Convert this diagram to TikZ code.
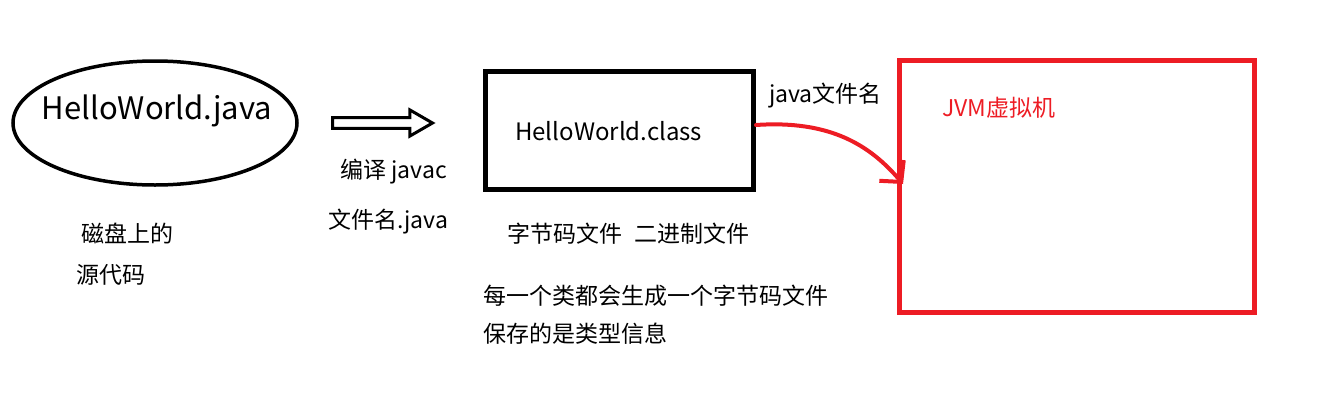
\documentclass[tikz,border=0pt]{standalone}
\usepackage{fontspec}
\setmainfont{Noto Sans CJK SC}
\usetikzlibrary{arrows.meta,shapes.arrows}
\definecolor{jred}{RGB}{237,28,36}
\tikzset{
  lbl/.style={inner sep=0pt, font=\fontsize{23}{26}\selectfont, anchor=west},
  bigbox/.style={draw, line width=5pt, inner sep=0pt},
}
\begin{document}
\begin{tikzpicture}[x=1pt,y=-1pt]
\useasboundingbox (0,0) rectangle (1318,410);
% ellipse
\draw[line width=3.5pt] (155,123) ellipse [x radius=142, y radius=62];
\node[inner sep=0pt, font=\fontsize{31}{34}\selectfont] (src) at (157,111) {HelloWorld.java};
\node[lbl] (disk) at (81,233) {磁盘上的};
\node[lbl] (code) at (76,275) {源代码};
% hollow arrow
\node[single arrow, draw, line width=3pt, minimum width=26pt, minimum height=100pt,
      single arrow head extend=5pt, single arrow tip angle=60, inner sep=2pt, anchor=west] (comp) at (331,123) {};
\node[lbl] (javac) at (340,172) {编译 javac};
\node[lbl] (fname) at (328,222) {文件名.java};
% class box
\node[bigbox, minimum width=268pt, minimum height=118pt] (cls) at (619.5,130) {};
\node[inner sep=0pt, font=\fontsize{24}{27}\selectfont, anchor=west] (clst) at (515,131) {HelloWorld.class};
\node[lbl] (bc) at (507,234) {字节码文件\hspace{12pt}二进制文件};
\node[lbl] (each) at (483,296) {每一个类都会生成一个字节码文件};
\node[lbl] (save) at (483,334) {保存的是类型信息};
\node[lbl] (jfn) at (769,96) {java文件名};
% JVM box
\node[bigbox, draw=jred, minimum width=355pt, minimum height=252pt] (jvm) at (1076.5,186) {};
\node[lbl, text=jred] (jvmt) at (942,108) {JVM虚拟机};
% red arrow
\coordinate (tip) at (903,184);
\draw[jred, line width=4pt, line cap=round, -{Straight Barb[length=15pt,width=32pt,line width=4pt]}]
  (cls.east |- 0,125) .. controls (830,120) and (870,145) .. (tip);
\end{tikzpicture}
\end{document}
